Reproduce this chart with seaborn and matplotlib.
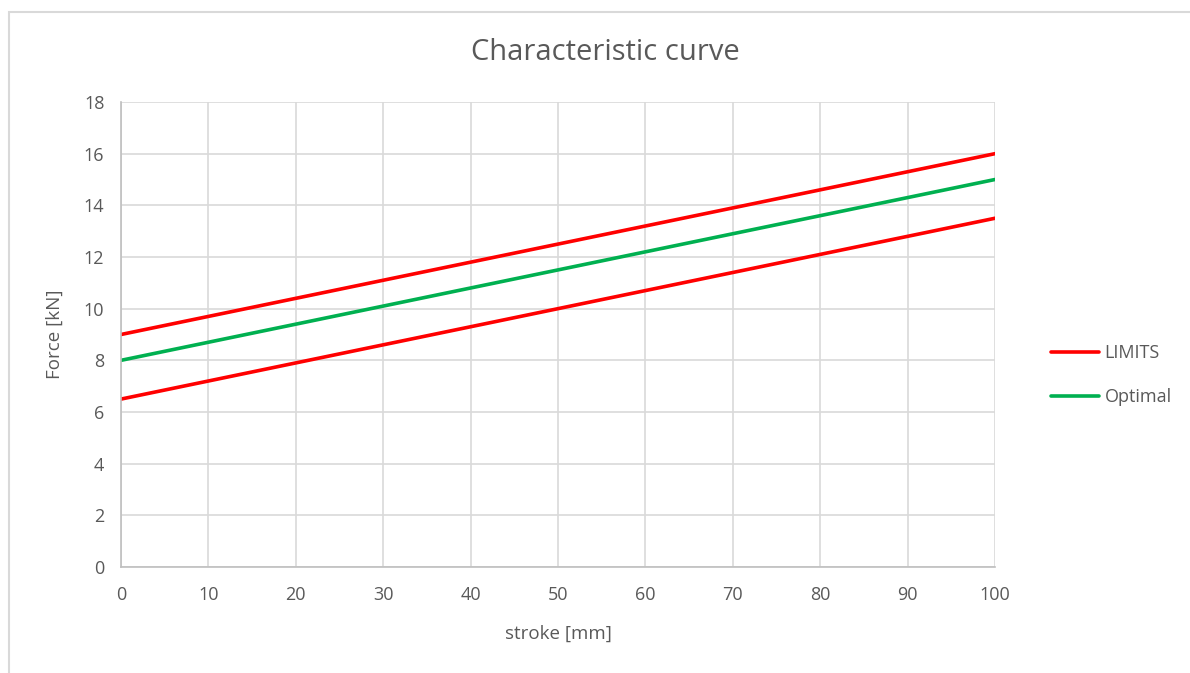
import matplotlib
matplotlib.use("Agg")
import matplotlib.pyplot as plt
import matplotlib.patches as mpatches
import seaborn as sns
import pandas as pd

stroke = [0, 100]
limit_upper = [9, 16]
limit_lower = [6.5, 13.5]
optimal = [8, 15]
x_ticks = [0, 10, 20, 30, 40, 50, 60, 70, 80, 90, 100]
y_ticks = [0, 2, 4, 6, 8, 10, 12, 14, 16, 18]

sns.set_theme(style="white")
plt.rcParams["font.family"] = ["Open Sans", "DejaVu Sans"]

TEXT = "#595959"
GRID = "#D9D9D9"
RED = "#FF0000"
GREEN = "#00B050"

W, H = 1190, 673
fig = plt.figure(figsize=(W / 100, H / 100), dpi=100)
ax = fig.add_axes([121 / W, 1 - 567 / H, (995 - 121) / W, (567 - 102) / H])

df = pd.DataFrame({"stroke": stroke, "upper": limit_upper,
                   "lower": limit_lower, "optimal": optimal})

sns.lineplot(data=df, x="stroke", y="upper", color=RED, linewidth=2.6,
             ax=ax, label="LIMITS")
sns.lineplot(data=df, x="stroke", y="lower", color=RED, linewidth=2.6,
             ax=ax, label="_nolegend_")
sns.lineplot(data=df, x="stroke", y="optimal", color=GREEN, linewidth=2.6,
             ax=ax, label="Optimal")

ax.set_xlim(0, 100)
ax.set_ylim(0, 18)
ax.set_xticks(x_ticks)
ax.set_yticks(y_ticks)
ax.grid(True, color=GRID, linewidth=1.2)
ax.set_axisbelow(True)
for s in ["top", "right"]:
    ax.spines[s].set_visible(False)
for s in ["left", "bottom"]:
    ax.spines[s].set_color("#BFBFBF")
    ax.spines[s].set_linewidth(1.2)
ax.tick_params(axis="both", length=0, labelsize=13, colors=TEXT)
ax.tick_params(axis="x", pad=14)
ax.tick_params(axis="y", pad=12)

ax.set_xlabel("stroke [mm]", fontsize=13.5, color=TEXT, labelpad=15)
ax.set_ylabel("Force [kN]", fontsize=13.5, color=TEXT, labelpad=14)
fig.text(605 / W, 1 - 52 / H, "Characteristic curve", ha="center", va="center",
         fontsize=21, color=TEXT)

leg = ax.legend(loc="center left", bbox_to_anchor=(1.045, 0.413), frameon=False,
                fontsize=13, handlelength=2.7, handletextpad=0.3,
                labelspacing=1.45)
for t in leg.get_texts():
    t.set_color(TEXT)

fig.patches.append(mpatches.Rectangle((8.5 / W, -0.1), 1.2, 1 - 11.5 / H + 0.1,
                                      transform=fig.transFigure, fill=False,
                                      edgecolor="#D9D9D9", linewidth=1.5))

fig.savefig("out.png", dpi=100)
